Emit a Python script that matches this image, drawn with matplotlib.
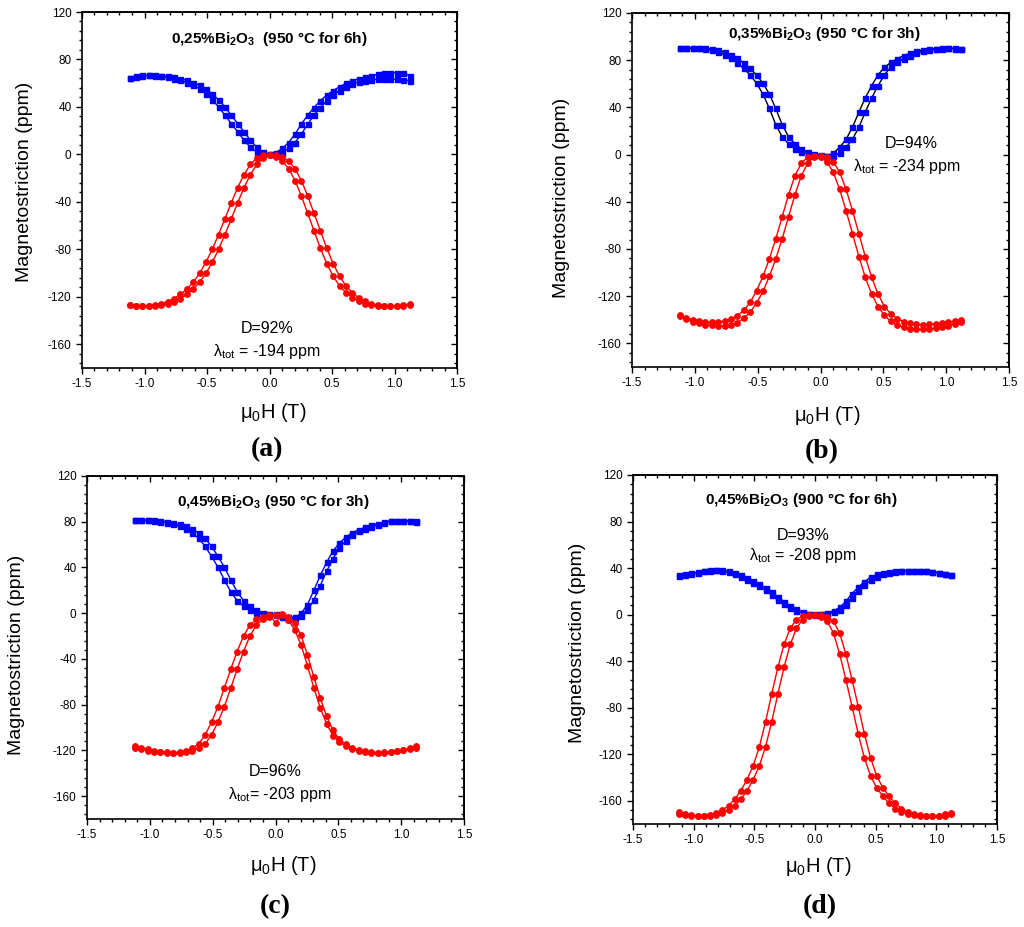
import numpy as np
import matplotlib
matplotlib.use("Agg")
import matplotlib.pyplot as plt
from matplotlib.ticker import MultipleLocator, FormatStrFormatter, NullFormatter

plt.rcParams['font.family'] = ['Liberation Sans', 'DejaVu Sans']
plt.rcParams['mathtext.fontset'] = 'custom'
plt.rcParams['mathtext.rm'] = 'Liberation Sans'
plt.rcParams['mathtext.bf'] = 'Liberation Sans:bold'
plt.rcParams['mathtext.it'] = 'Liberation Sans:italic'
plt.rcParams['axes.unicode_minus'] = False

# ---------------- data ----------------
FIELD_T = np.linspace(-1.12, 1.12, 45)   # applied field mu0H (T)

A_BLUE_1 = [64.0, 65.0, 66.0, 66.6, 66.7, 66.4, 65.9, 65.0, 63.9, 62.4, 60.5, 58.2, 55.2, 51.0, 46.0, 40.0, 33.0, 26.0, 19.0, 12.0, 6.0, 2.0, 0.2,
            0.2, 1.6, 5.0, 10.0, 17.0, 25.5, 33.0, 39.5, 45.3, 50.0, 53.8, 57.0, 59.3, 61.0, 62.0, 62.8, 63.3, 63.5, 63.5, 63.2, 62.8, 62.0]
A_BLUE_2 = [64.5, 65.9, 66.5, 66.7, 66.4, 65.9, 65.0, 63.9, 62.4, 60.5, 58.2, 55.2, 51.0, 46.0, 40.0, 33.0, 26.0, 19.0, 12.0, 6.0, 2.0, 0.3, 0.2,
            1.6, 5.0, 10.0, 17.0, 25.5, 33.0, 39.5, 45.3, 50.0, 53.8, 57.0, 59.8, 62.0, 63.8, 65.2, 66.4, 67.4, 68.2, 68.7, 69.0, 69.0, 66.0]
A_RED_1 = [-127.0, -127.35, -127.6, -127.65, -127.45, -126.9, -125.8, -124.0, -121.5, -118.0, -113.5, -107.8, -100.3, -91.0, -80.0, -67.5, -54.2, -40.7, -28.0, -17.0, -8.5, -3.2, -0.9,
           -0.6, -2.0, -5.5, -12.0, -22.0, -35.0, -49.5, -64.5, -79.0, -92.0, -102.7, -110.7, -116.5, -120.7, -123.7, -125.7, -126.9, -127.5, -127.7, -127.7, -127.4, -126.9]
A_RED_2 = [-127.3, -127.6, -127.65, -127.45, -126.9, -125.8, -124.0, -121.5, -118.0, -113.5, -107.8, -100.3, -91.0, -80.0, -67.5, -54.2, -40.7, -28.0, -17.0, -8.5, -3.2, -0.9, -0.6,
           -2.0, -5.5, -12.0, -22.0, -35.0, -49.5, -64.5, -79.0, -92.0, -102.7, -110.7, -116.5, -120.7, -123.7, -125.7, -126.9, -127.5, -127.75, -127.7, -127.4, -126.9, -126.3]

B_BLUE_1 = [90.1, 90.3, 90.4, 90.3, 90.0, 89.4, 88.4, 86.9, 84.8, 81.5, 77.5, 73.0, 67.5, 60.5, 51.4, 39.2, 25.5, 15.2, 9.1, 5.0, 2.2, 0.8, -0.1,
            -1.2, -1.4, 1.2, 6.2, 13.0, 23.2, 36.0, 48.0, 58.5, 67.6, 74.1, 78.1, 81.3, 83.9, 85.9, 87.5, 88.7, 89.4, 89.8, 90.0, 90.0, 89.9]
B_BLUE_2 = [90.3, 90.4, 90.3, 90.0, 89.4, 88.4, 86.9, 84.8, 81.5, 77.5, 73.0, 67.5, 60.5, 51.4, 39.2, 25.5, 15.2, 9.1, 5.0, 2.2, 0.8, -0.1, -1.2,
            -1.4, 1.2, 6.2, 13.0, 23.2, 36.0, 48.0, 58.5, 67.6, 74.1, 78.1, 81.3, 83.9, 85.9, 87.5, 88.7, 89.4, 89.8, 90.0, 90.0, 89.9, 89.8]
B_RED_1 = [-137.0, -139.5, -141.5, -143.0, -144.0, -144.8, -145.2, -145.2, -144.3, -142.3, -138.8, -133.5, -126.0, -116.0, -103.3, -88.5, -71.5, -52.8, -34.0, -18.0, -7.3, -2.1, -0.9,
           -2.0, -6.0, -15.0, -29.5, -47.5, -67.0, -86.5, -104.0, -118.3, -128.8, -135.0, -139.0, -141.5, -143.0, -143.8, -144.0, -143.8, -143.3, -142.7, -142.0, -141.3, -140.5]
B_RED_2 = [-136.0, -138.3, -139.8, -140.8, -141.5, -141.8, -141.8, -141.2, -139.5, -136.5, -132.0, -125.3, -115.5, -103.3, -88.5, -71.5, -52.8, -34.0, -18.0, -7.3, -2.1, -0.9, -2.0,
           -6.0, -15.0, -29.5, -47.5, -67.0, -86.5, -104.0, -118.3, -128.8, -136.3, -141.3, -144.5, -146.5, -147.5, -148.0, -148.0, -147.6, -147.0, -146.0, -145.0, -143.5, -141.5]

C_BLUE_1 = [81.1, 81.4, 81.5, 81.3, 80.9, 80.2, 79.3, 78.0, 76.2, 73.6, 70.2, 65.5, 58.5, 49.8, 40.3, 29.3, 18.8, 11.0, 6.2, 2.9, 0.6, -0.9, -1.5,
            -2.0, -3.0, -3.7, -2.5, 2.5, 11.7, 24.2, 36.8, 47.8, 57.0, 63.5, 68.1, 71.5, 73.8, 75.8, 77.5, 79.0, 80.3, 80.9, 80.9, 80.7, 80.4]
C_BLUE_2 = [81.4, 81.5, 81.3, 80.9, 80.2, 79.3, 78.0, 76.2, 73.6, 70.2, 65.5, 58.5, 49.8, 40.3, 29.3, 18.8, 11.0, 6.2, 2.9, 0.6, -0.9, -1.5, -1.0,
            -3.0, -4.8, -4.0, 0.0, 7.5, 20.0, 33.0, 44.5, 54.5, 61.5, 66.6, 70.5, 73.0, 75.0, 76.8, 78.4, 79.8, 80.7, 81.0, 80.7, 80.4, 80.1]
C_RED_1 = [-116.2, -117.5, -118.9, -120.1, -121.0, -121.7, -122.1, -122.1, -121.5, -120.2, -118.0, -114.2, -106.5, -95.3, -81.8, -65.5, -49.0, -33.5, -20.0, -10.5, -5.5, -3.0, -1.2,
           -1.0, -3.0, -8.5, -19.5, -36.5, -55.8, -74.3, -90.3, -102.5, -110.3, -114.6, -117.5, -119.6, -120.8, -121.6, -121.9, -121.9, -121.6, -120.9, -120.0, -118.9, -117.6]
C_RED_2 = [-117.5, -118.9, -120.1, -121.0, -121.7, -122.1, -122.1, -121.5, -120.2, -118.0, -114.2, -106.5, -95.3, -81.8, -65.5, -49.0, -33.5, -20.0, -10.5, -5.5, -3.0, -1.2, -8.5,
           -1.8, -5.9, -14.5, -28.0, -46.0, -65.5, -83.0, -97.0, -107.0, -113.0, -116.3, -118.8, -120.4, -121.4, -121.9, -122.0, -121.8, -121.3, -120.5, -119.5, -118.3, -116.2]

D_BLUE_1 = [33.6, 34.4, 35.2, 36.1, 37.1, 37.9, 38.4, 38.1, 37.2, 35.9, 34.0, 31.5, 28.8, 26.0, 22.8, 19.2, 15.0, 11.0, 7.4, 4.4, 2.2, 0.8, 0.1,
            0.1, 0.6, 1.9, 4.0, 8.2, 14.2, 20.2, 25.3, 29.6, 32.6, 34.6, 35.8, 36.6, 37.1, 37.5, 37.7, 37.6, 37.3, 36.7, 36.0, 35.2, 34.4]
D_BLUE_2 = [33.9, 34.6, 35.4, 36.3, 37.3, 38.1, 38.2, 37.4, 36.3, 34.6, 32.5, 29.8, 27.1, 24.3, 20.8, 16.8, 12.6, 8.7, 5.5, 3.0, 1.3, 0.3, 0.0,
            0.3, 1.3, 3.2, 6.2, 11.5, 18.0, 23.6, 28.2, 32.2, 34.5, 35.9, 36.8, 37.4, 37.7, 37.9, 37.9, 37.7, 37.2, 36.6, 35.9, 35.1, 34.2]
D_RED_1 = [-170.0, -171.2, -172.3, -173.0, -173.3, -173.1, -172.2, -170.5, -168.0, -164.3, -158.8, -151.3, -141.8, -129.8, -113.5, -92.0, -68.0, -45.0, -25.5, -11.8, -4.3, -1.3, -0.3,
           -0.4, -1.8, -5.9, -16.0, -34.0, -56.0, -79.0, -102.5, -123.3, -138.8, -149.0, -156.3, -162.3, -166.7, -169.4, -171.3, -172.4, -173.0, -173.3, -173.2, -172.7, -171.8]
D_RED_2 = [-171.2, -172.3, -173.0, -173.3, -173.1, -172.2, -170.5, -168.0, -164.3, -158.8, -151.3, -141.8, -129.8, -113.5, -92.0, -68.0, -45.0, -25.5, -11.8, -4.3, -1.3, -0.3, -0.4,
           -1.8, -5.9, -16.0, -34.0, -56.0, -79.0, -102.5, -123.3, -138.8, -149.0, -156.3, -162.3, -166.7, -169.4, -171.3, -172.4, -173.0, -173.3, -173.2, -172.7, -171.8, -170.8]

TITLES = [r'0,25%Bi$_\mathbf{2}$O$_\mathbf{3}$  (950 °C for 6h)',
          r'0,35%Bi$_\mathbf{2}$O$_\mathbf{3}$ (950 °C for 3h)',
          r'0,45%Bi$_\mathbf{2}$O$_\mathbf{3}$ (950 °C for 3h)',
          r'0,45%Bi$_\mathbf{2}$O$_\mathbf{3}$ (900 °C for 6h)']
DENSITY = ['D=92%', 'D=94%', 'D=96%', 'D=93%']
LAMBDA = [r'λ$_\mathrm{tot}$ = -194 ppm', r'λ$_\mathrm{tot}$ = -234 ppm',
          r'λ$_\mathrm{tot}$= -203 ppm', r'λ$_\mathrm{tot}$ = -208 ppm']
PANEL_LABELS = ['a', 'b', 'c', 'd']

# ---------------- layout (pixels of a 1024x927 canvas) ----------------
W, H = 1024, 927
fig = plt.figure(figsize=(W / 100, H / 100), dpi=100)

def px_axes(l, t, r, b):
    return fig.add_axes([l / W, 1 - b / H, (r - l) / W, (b - t) / H])

axes_px = [(82, 12, 457, 368), (632, 13, 1009, 367), (87, 476, 464, 819), (633, 475, 997, 824)]
title_pos = [(0.0, 97), (0.03, 102), (-0.02, 97.5), (-0.11, 98.5)]
dens_pos = [(-0.02, -147), (0.72, 9), (0.0, -138.7), (-0.1, 67.6)]
lam_pos = [(-0.02, -166), (0.69, -10.2), (0.036, -159), (-0.1, 51.2)]
xlab_px = [(273, 418), (827, 421), (283, 871), (818, 872)]
ylab_px = [(25, 182), (562, 198), (17, 655), (577, 643)]
plab_px = [(267, 450), (822, 452), (275, 907), (820, 907)]
blue_line_colors = ['#0000ff', '#000000', '#0000ff', '#0000ff']

blue_sets = [(A_BLUE_1, A_BLUE_2), (B_BLUE_1, B_BLUE_2), (C_BLUE_1, C_BLUE_2), (D_BLUE_1, D_BLUE_2)]
red_sets = [(A_RED_1, A_RED_2), (B_RED_1, B_RED_2), (C_RED_1, C_RED_2), (D_RED_1, D_RED_2)]

for i in range(4):
    ax = px_axes(*axes_px[i])
    for yv in blue_sets[i]:
        ax.plot(FIELD_T, yv, '-', color=blue_line_colors[i], lw=1.0, marker='s', ms=3.6,
                mec='#0000ff', mfc='#0000ff', clip_on=False)
    for yv in red_sets[i]:
        ax.plot(FIELD_T, yv, '-', color='#ff0000', lw=1.0, marker='o', ms=3.9,
                mec='#ff0000', mfc='#ff0000', clip_on=False)

    ax.set_xlim(-1.5, 1.5)
    ax.set_ylim(-180, 120)
    ax.xaxis.set_major_locator(MultipleLocator(0.5))
    ax.xaxis.set_minor_locator(MultipleLocator(0.1))
    ax.yaxis.set_major_locator(MultipleLocator(40))
    ax.yaxis.set_minor_locator(MultipleLocator(8))
    ax.xaxis.set_major_formatter(FormatStrFormatter('%.1f'))
    ax.tick_params(which='both', direction='out', labelsize=8.5, width=1.0, pad=3)
    ax.tick_params(which='major', length=4.5)
    ax.tick_params(which='minor', length=2.5)
    for s in ax.spines.values():
        s.set_linewidth(1.2)

    secx = ax.secondary_xaxis('top')
    secx.xaxis.set_major_locator(MultipleLocator(0.5))
    secx.xaxis.set_minor_locator(MultipleLocator(0.1))
    secx.xaxis.set_major_formatter(NullFormatter())
    secx.tick_params(which='both', direction='in', width=1.0)
    secx.tick_params(which='major', length=4.5)
    secx.tick_params(which='minor', length=2.5)
    secx.spines['top'].set_linewidth(1.2)

    secy = ax.secondary_yaxis('right')
    secy.yaxis.set_major_locator(MultipleLocator(40))
    secy.yaxis.set_minor_locator(MultipleLocator(8))
    secy.yaxis.set_major_formatter(NullFormatter())
    secy.tick_params(which='both', direction='in', width=1.0)
    secy.tick_params(which='major', length=4.5)
    secy.tick_params(which='minor', length=2.5)
    secy.spines['right'].set_linewidth(1.2)

    ax.text(*title_pos[i], TITLES[i], ha='center', va='center', fontsize=11,
            fontweight='bold')
    ax.text(*dens_pos[i], DENSITY[i], ha='center', va='center', fontsize=11.5)
    ax.text(*lam_pos[i], LAMBDA[i], ha='center', va='center', fontsize=11.5)

    fig.text(xlab_px[i][0] / W, 1 - xlab_px[i][1] / H, r'μ$_\mathrm{0}$H (T)',
             ha='center', va='baseline', fontsize=14.5)
    fig.text(ylab_px[i][0] / W, 1 - ylab_px[i][1] / H, 'Magnetostriction (ppm)',
             ha='center', va='center', rotation=90, fontsize=14)
    fig.text(plab_px[i][0] / W, 1 - plab_px[i][1] / H,
             '(' + PANEL_LABELS[i] + ')', ha='center', va='center',
             fontsize=20, fontweight='bold', family='Liberation Serif')

fig.savefig('out.png', dpi=100)
